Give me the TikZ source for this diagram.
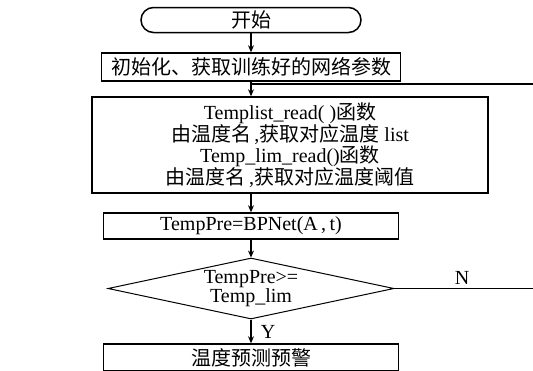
\documentclass[tikz,border=0pt]{standalone}
\usepackage{fontspec}
\setmainfont{Liberation Serif}
\newfontfamily\cjk{Noto Sans CJK SC}
\usetikzlibrary{shapes.geometric,arrows.meta}

\begin{document}
\begin{tikzpicture}[x=1pt,y=-1pt,
        box/.style={draw, line width=1.5pt, inner sep=0pt, align=center, font=\fontsize{20}{19.5}\selectfont},
        arr/.style={line width=1.3pt, -{Stealth[length=7pt,width=6pt]}},
        ln/.style={line width=1.3pt},
        lbl/.style={inner sep=0pt, font=\fontsize{20}{20}\selectfont}]
        \useasboundingbox (0,0) rectangle (533,370);
        \clip (0,0) rectangle (533,370);
        \node [box, rounded corners=12.5pt, minimum width=220pt, minimum height=25pt] (start) at (251,20) {\cjk 开始};
        \node [box, minimum width=299pt, minimum height=28pt] (init) at (251,67) {\cjk 初始化、获取训练好的网络参数};
        \node [box, minimum width=396pt, minimum height=96pt] (read) at (290,145)
            {Templist\_read(~){\cjk 函数}\\
             {\cjk 由温度名}\,,{\cjk 获取对应温度} list\\
             Temp\_lim\_read(){\cjk 函数}\\
             {\cjk 由温度名}\,,{\cjk 获取对应温度阈值}};
        \node [box, minimum width=295pt, minimum height=26pt] (pre) at (251,226) {TempPre=BPNet(A\,,\,t)};
        \node [box, diamond, line width=1pt, aspect=4.7, minimum width=286pt, minimum height=61pt] (cmp) at (251,288.5) {TempPre>=\\Temp\_lim};
        \node [box, minimum width=295pt, minimum height=27pt] (warn) at (251,357.5) {\cjk 温度预测预警};
        \coordinate (loop) at (251,84);
        \coordinate (loopR) at (533,84);
        \coordinate (noR) at (533,288.5);
        \node [lbl] (ylab) at (268,332) {Y};
        \node [lbl] (nlab) at (462,278) {N};
        \draw [arr] (start) -- (init);
        \draw [arr] (init) -- (init.south |- read.north);
        \draw [ln] (loop) -- (loopR);
        \draw [arr] (pre.north |- read.south) -- (pre);
        \draw [arr] (pre) -- (cmp);
        \draw [arr] (cmp) -- (warn);
        \draw [ln] (cmp.east) -- (noR);
\end{tikzpicture}
\end{document}
